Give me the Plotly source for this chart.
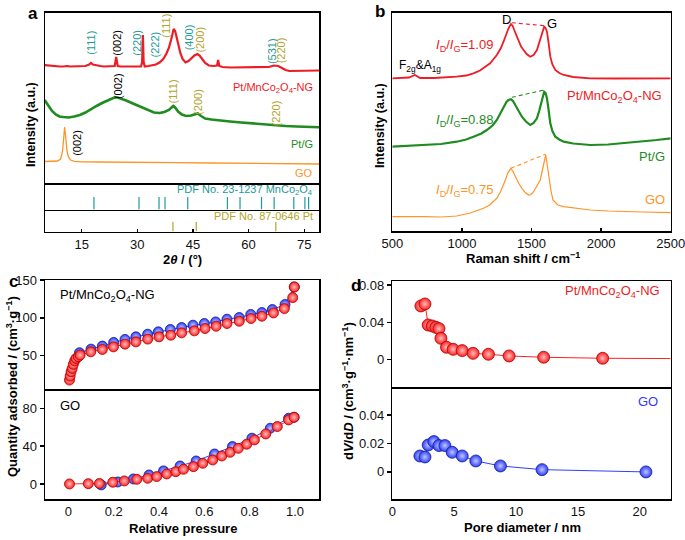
import plotly.graph_objects as go

# ---------------- DATA ----------------
# Panel a: XRD (2theta in degrees, intensity in a.u. with vertical offsets)
xrd_ng_2theta = [5, 6, 7, 8, 9, 10, 11, 12, 13, 14, 15, 16, 17, 17.5, 18, 19, 20, 21, 22, 23, 23.9, 24.3, 24.7,
                 25.5, 27, 28, 29, 30, 31, 31.3, 31.5, 31.7, 32, 33, 34, 35, 36, 37, 37.8, 38.5, 39.1, 39.5,
                 39.8, 40.2, 40.6, 41.1, 41.6, 42.2, 43, 43.8, 44.6, 45.4, 46.2, 46.8, 47.5, 48.3, 49.3, 50.5,
                 51.5, 51.8, 52.1, 53, 55, 58, 61, 64, 65.5, 66.8, 68, 69, 70, 71, 73, 75, 77, 79]
xrd_ng_px = [65, 65.5, 66, 66.5, 66.5, 66.5, 66, 66.5, 66.5, 66.5, 66, 66, 64.5, 63, 64.5, 65.5, 66, 66.5, 66.5,
             66.5, 66, 57, 66, 66.5, 66.5, 66.5, 66.5, 66.5, 66.5, 62, 35, 62, 66.5, 66, 65.5, 64.5, 62.5, 59,
             54, 48, 40, 33, 29, 31, 37, 46, 53, 59, 62.5, 61, 58, 55.5, 54, 55.5, 59, 63, 65.5, 66, 65.5, 60,
             66, 67, 67.5, 67.5, 67.5, 67.5, 67, 65.5, 66, 68, 70, 71, 71, 71, 70.5, 70.5]
xrd_ng = [183 - v for v in xrd_ng_px]

xrd_ptg_2theta = [5, 6, 7, 8, 9, 10, 11.5, 13, 14.5, 16, 17.5, 19, 20.5, 22, 23.5, 24.5, 25.5, 27, 28.5, 30,
                  31.5, 33, 34.5, 36, 37.3, 38.5, 39.3, 39.7, 40.2, 41, 42, 43.2, 44.5, 45.5, 46.3, 47.2,
                  48.3, 50, 52, 55, 58, 61, 64, 67, 70, 73, 76, 79]
xrd_ptg_px = [100, 106, 111, 114.5, 116.5, 117, 117.5, 116.5, 115, 112.5, 109, 106, 103, 100.5, 98, 97.3, 98.5,
              100.5, 103, 105.5, 108, 110.5, 112.5, 113, 112, 110, 107.5, 106, 107.5, 111.5, 114.5, 116,
              115.5, 114.5, 113.5, 116, 118.5, 119.5, 120.5, 121.5, 122.5, 123.5, 124.5, 125, 126, 126.5,
              127, 127.3]
xrd_ptg = [183 - v for v in xrd_ptg_px]

xrd_go_2theta = [5, 7, 8.5, 9.3, 9.8, 10.1, 10.4, 10.7, 11.0, 11.4, 12, 13, 15, 20, 25, 30, 40, 50, 60, 70, 79]
xrd_go_px = [161.5, 161.5, 161, 159, 152, 140, 127, 138, 150, 157, 160, 161.3, 161.8, 162, 162, 162.3, 162.7,
             163, 163.3, 163.6, 164]
xrd_go = [183 - v for v in xrd_go_px]

pdf_mnco2o4 = [18.3, 30.45, 35.85, 37.47, 43.6, 54.3, 57.7, 63.5, 66.9, 72.2, 75.2, 76.2]
pdf_pt = [39.6, 45.9, 67.35]

# Panel b: Raman (shift in cm-1, intensity a.u. with offsets)
raman_ng_shift = [500, 560, 620, 663, 700, 800, 900, 963, 1030, 1083, 1130, 1155, 1203, 1251, 1280, 1299, 1320,
                  1335, 1352, 1365, 1376, 1392, 1407, 1425, 1443, 1465, 1491, 1515, 1539, 1555, 1568, 1580,
                  1591, 1601, 1611, 1623, 1635, 1650, 1671, 1700, 1731, 1800, 1922, 2100, 2300, 2500]
raman_ng_px = [78.3, 78, 77.5, 75, 78, 78, 77.5, 76.7, 75.5, 73.3, 70.5, 68.3, 63.3, 55, 48, 41.7, 33, 28.3, 24,
               26, 30, 36, 41.7, 46.5, 50, 54, 56.7, 55, 50, 43, 36.7, 30, 26.7, 28, 31.7, 43, 56.7, 64.5, 70,
               73, 75, 77, 78.3, 78.5, 78.5, 78.3]
raman_ng = [231 - v for v in raman_ng_px]

raman_ptg_shift = [500, 600, 724, 850, 963, 1030, 1083, 1140, 1179, 1220, 1251, 1280, 1299, 1320, 1335, 1352,
                   1367, 1383, 1407, 1431, 1460, 1491, 1515, 1539, 1555, 1568, 1580, 1591, 1601, 1611, 1623,
                   1635, 1650, 1671, 1700, 1731, 1800, 1922, 2050, 2162, 2300, 2400, 2500]
raman_ptg_px = [146.7, 146, 145, 144, 141.7, 139.5, 136.7, 133.5, 130, 125.5, 120, 112, 106.7, 102, 100, 99.3,
                101, 105, 111, 116.7, 121.5, 125, 123, 118.3, 111, 103.3, 96, 91.7, 93, 98.3, 110, 123.3, 131,
                136.7, 139.5, 141.7, 143.5, 145, 144.5, 143.3, 141.5, 140, 138.3]
raman_ptg = [231 - v for v in raman_ptg_px]

raman_go_shift = [500, 600, 724, 850, 963, 1060, 1155, 1200, 1251, 1280, 1299, 1315, 1328, 1340, 1352, 1365,
                  1383, 1407, 1431, 1455, 1479, 1497, 1515, 1540, 1563, 1577, 1587, 1596, 1602, 1610, 1623,
                  1640, 1654, 1690, 1731, 1800, 1922, 2050, 2162, 2300, 2500]
raman_go_px = [216.7, 216.5, 216.7, 217, 216, 213, 208.3, 205, 198.3, 191, 185, 179, 173.3, 170, 168.3, 171,
               176.7, 183, 188.3, 192.5, 195, 194.5, 191.7, 186, 180, 171, 163.3, 157, 155, 162, 176.7, 191,
               200, 205, 206.7, 208, 210, 211, 211.7, 212, 212.7]
raman_go = [231 - v for v in raman_go_px]

# D/G peak tie lines: (shift_D, shift_G), (I_D, I_G)
dg_ng = ([1359, 1591], [231 - 22.7, 231 - 25.7])
dg_ptg = ([1359, 1591], [231 - 97.3, 231 - 90])
dg_go = ([1352, 1602], [231 - 168.3, 231 - 154])

# Panel c: N2 isotherms (relative pressure, quantity adsorbed)
ng_ads_p = [0.005, 0.008, 0.012, 0.017, 0.022, 0.028, 0.034, 0.044, 0.052, 0.099, 0.15, 0.199, 0.25, 0.298,
            0.35, 0.4, 0.452, 0.5, 0.556, 0.603, 0.652, 0.7, 0.754, 0.806, 0.854, 0.905, 0.953, 0.99, 0.997]
ng_ads_q = [18, 23.3, 29, 33.4, 38.7, 43.4, 46.6, 48.7, 51, 55.3, 58.4, 61.8, 65.4, 68.4, 72, 75, 77.2, 80.3,
            82.9, 86, 89, 92.6, 95.6, 99.2, 102.2, 106.6, 112.3, 126.8, 140.8]
ng_des_p = [0.997, 0.956, 0.9, 0.854, 0.805, 0.754, 0.7, 0.65, 0.6, 0.55, 0.5, 0.45, 0.397, 0.35, 0.298, 0.25,
            0.2, 0.15, 0.1, 0.049]
ng_des_q = [140.8, 117.6, 111, 107, 104.5, 100.5, 98.3, 94.7, 92.6, 90.4, 87.3, 84.7, 81.6, 78.5, 75, 71.6,
            67.6, 62.8, 58.8, 54]
go_ads_p = [0.005, 0.088, 0.137, 0.196, 0.247, 0.302, 0.35, 0.39, 0.434, 0.474, 0.508, 0.552, 0.593, 0.637,
            0.677, 0.714, 0.75, 0.787, 0.821, 0.871, 0.922, 0.972, 0.996]
go_ads_q = [0, 0.3, 0.5, 1.8, 3.2, 4.9, 6, 7.8, 10.6, 13, 15.5, 18.3, 21.9, 25.4, 29.6, 33.5, 37.7, 42, 46.6,
            52.9, 60.7, 67.7, 70.5]
go_des_p = [0.996, 0.972, 0.891, 0.81, 0.724, 0.645, 0.564, 0.493, 0.42, 0.356, 0.287, 0.218, 0.145]
go_des_q = [70.5, 69.5, 58.9, 48.4, 39.5, 31.7, 24.3, 19, 13.8, 9.5, 5.3, 2.1, -1]

# Panel d: pore size distributions (pore diameter nm, dV/dD)
psd_ng_d = [2.31, 2.64, 2.9, 3.23, 3.52, 3.77, 3.93, 4.38, 4.92, 5.65, 6.53, 7.77, 9.44, 12.23, 17.0]
psd_ng_v = [0.0576, 0.0597, 0.0372, 0.0361, 0.0347, 0.0333, 0.0229, 0.0133, 0.0111, 0.0097, 0.0068, 0.0058,
            0.004, 0.0026, 0.0015]
psd_ng_tail_d = [17.0, 22.5]
psd_ng_tail_v = [0.0015, 0.0012]
psd_go_d = [2.23, 2.64, 2.9, 3.36, 3.77, 4.25, 4.84, 5.65, 6.75, 8.74, 12.1, 20.5]
psd_go_v = [0.0112, 0.0105, 0.0189, 0.0213, 0.0185, 0.0185, 0.0138, 0.0112, 0.0077, 0.0042, 0.0016, 0.0]

# ---------------- STYLE ----------------
W, H = 685, 540
FONT = "Liberation Sans, Arial, sans-serif"
RED = "#ee1c25"
GREEN = "#1e8c1e"
ORANGE = "#ff9426"
BLUE = "#3535ff"
TEAL = "#1d9a9a"
OLIVE = "#b3a42c"


def X(px):
    return px / W


def Y(py):
    return 1 - py / H


fig = go.Figure()

# Panel a traces
fig.add_trace(go.Scatter(x=xrd_ng_2theta, y=xrd_ng, mode="lines", line=dict(color=RED, width=2.2),
                         xaxis="x", yaxis="y", hoverinfo="skip"))
fig.add_trace(go.Scatter(x=xrd_ptg_2theta, y=xrd_ptg, mode="lines", line=dict(color=GREEN, width=2.6),
                         xaxis="x", yaxis="y", hoverinfo="skip"))
fig.add_trace(go.Scatter(x=xrd_go_2theta, y=xrd_go, mode="lines", line=dict(color=ORANGE, width=1.3),
                         xaxis="x", yaxis="y", hoverinfo="skip"))


def sticks(pos, h):
    xs, ys = [], []
    for p in pos:
        xs += [p, p, None]
        ys += [0, h, None]
    return xs, ys


sx, sy = sticks(pdf_mnco2o4, 0.47)
fig.add_trace(go.Scatter(x=sx, y=sy, mode="lines", line=dict(color=TEAL, width=1.2), xaxis="x2", yaxis="y2"))
sx, sy = sticks(pdf_pt, 0.43)
fig.add_trace(go.Scatter(x=sx, y=sy, mode="lines", line=dict(color=OLIVE, width=1.2), xaxis="x3", yaxis="y3"))

# Panel b traces
fig.add_trace(go.Scatter(x=raman_ng_shift, y=raman_ng, mode="lines", line=dict(color=RED, width=1.8),
                         xaxis="x4", yaxis="y4"))
fig.add_trace(go.Scatter(x=raman_ptg_shift, y=raman_ptg, mode="lines", line=dict(color=GREEN, width=2.2),
                         xaxis="x4", yaxis="y4"))
fig.add_trace(go.Scatter(x=raman_go_shift, y=raman_go, mode="lines", line=dict(color=ORANGE, width=1.2),
                         xaxis="x4", yaxis="y4"))
for (dx, dy), c in [(dg_ng, RED), (dg_ptg, GREEN), (dg_go, ORANGE)]:
    fig.add_trace(go.Scatter(x=dx, y=dy, mode="lines", line=dict(color=c, width=1.1, dash="4px,3px"),
                             xaxis="x4", yaxis="y4"))


def sphere(color, edge, hl, size):
    return dict(color=color, size=size, line=dict(color=edge, width=0.8),
                gradient=dict(type="radial", color=hl))


RED_M = sphere("#ff1f1f", "#b00000", "#ffc0c0", 10)
BLUE_M = sphere("#2f3dff", "#10208f", "#c0c8ff", 10)

# Panel c traces
fig.add_trace(go.Scatter(x=ng_des_p, y=ng_des_q, mode="lines+markers", line=dict(color="#3040ff", width=1),
                         marker=BLUE_M, xaxis="x5", yaxis="y5"))
fig.add_trace(go.Scatter(x=ng_ads_p, y=ng_ads_q, mode="lines+markers", line=dict(color="#ff2020", width=1),
                         marker=RED_M, xaxis="x5", yaxis="y5"))
fig.add_trace(go.Scatter(x=go_des_p, y=go_des_q, mode="lines+markers", line=dict(color="#3040ff", width=1),
                         marker=BLUE_M, xaxis="x6", yaxis="y6"))
fig.add_trace(go.Scatter(x=go_ads_p, y=go_ads_q, mode="lines+markers", line=dict(color="#ff2020", width=1),
                         marker=RED_M, xaxis="x6", yaxis="y6"))

# Panel d traces
fig.add_trace(go.Scatter(x=psd_ng_tail_d, y=psd_ng_tail_v, mode="lines", line=dict(color="#ff2020", width=1),
                         xaxis="x7", yaxis="y7"))
fig.add_trace(go.Scatter(x=psd_ng_d, y=psd_ng_v, mode="lines+markers", line=dict(color="#ff2020", width=1),
                         marker=sphere("#ff1f1f", "#b00000", "#ffc0c0", 12), xaxis="x7", yaxis="y7"))
fig.add_trace(go.Scatter(x=psd_go_d, y=psd_go_v, mode="lines+markers", line=dict(color="#3040ff", width=1),
                         marker=sphere("#2f3dff", "#10208f", "#c0c8ff", 12), xaxis="x8", yaxis="y8"))

# ---------------- AXES ----------------
base = dict(showline=True, linecolor="black", linewidth=1.5, showgrid=False, zeroline=False, automargin=False,
            tickfont=dict(family=FONT, size=13, color="#111"), tickcolor="black", tickwidth=1.3,
            ticklabeloverflow="allow")
box = dict(base, mirror=True)
bottom_only = dict(base, mirror=False)
noticks = dict(ticks="", showticklabels=False)

a_dom = [X(45), X(319)]
b_dom = [X(392.3), X(670.7)]
a_rng = [5.1, 79]

layout_axes = dict(
    xaxis=dict(domain=a_dom, range=a_rng, anchor="y", **box, **noticks),
    yaxis=dict(domain=[Y(183), Y(12.5)], range=[0, 170.5], anchor="x", **box, **noticks),
    xaxis2=dict(domain=a_dom, range=a_rng, anchor="y2", **bottom_only, **noticks),
    yaxis2=dict(domain=[Y(209.5), Y(183)], range=[0, 1], anchor="x2", **box, **noticks),
    xaxis3=dict(domain=a_dom, range=a_rng, anchor="y3", ticks="inside", ticklen=3,
                tickvals=[15, 30, 45, 60, 75], **bottom_only),
    yaxis3=dict(domain=[Y(231.5), Y(209.5)], range=[0, 1], anchor="x3", **box, **noticks),
    xaxis4=dict(domain=b_dom, range=[500, 2500], anchor="y4", ticks="inside", ticklen=3,
                tickvals=[500, 1000, 1500, 2000, 2500], **box),
    yaxis4=dict(domain=[Y(231), Y(12.7)], range=[0, 218.3], anchor="x4", **box, **noticks),
    xaxis5=dict(domain=a_dom, range=[-0.103, 1.106], anchor="y5", **box, **noticks),
    yaxis5=dict(domain=[Y(389), Y(280)], range=[6.2, 150], anchor="x5", ticks="outside", ticklen=4,
                tickvals=[50, 100, 150], **box),
    xaxis6=dict(domain=a_dom, range=[-0.103, 1.106], anchor="y6", ticks="",
                tickvals=[0, 0.2, 0.4, 0.6, 0.8, 1.0], ticktext=["0", "0.2", "0.4", "0.6", "0.8", "1.0"],
                **bottom_only),
    yaxis6=dict(domain=[Y(499), Y(389)], range=[-15.9, 100.4], anchor="x6", ticks="outside", ticklen=4,
                tickvals=[0, 40, 80], **box),
    xaxis7=dict(domain=b_dom, range=[0, 22.5], anchor="y7", **box, **noticks),
    yaxis7=dict(domain=[Y(387.3), Y(281)], range=[-0.0296, 0.0843], anchor="x7", ticks="outside", ticklen=4,
                tickvals=[0, 0.04, 0.08], ticktext=["0", "0.04", "0.08"], **box),
    xaxis8=dict(domain=b_dom, range=[0, 22.5], anchor="y8", ticks="", tickvals=[0, 5, 10, 15, 20],
                **bottom_only),
    yaxis8=dict(domain=[Y(499), Y(387.3)], range=[-0.019, 0.0594], anchor="x8", ticks="outside", ticklen=4,
                tickvals=[0, 0.02, 0.04], ticktext=["0", "0.02", "0.04"], **box),
)

ann = []


def paper_text(px, py, text, size=13, color="black", xanchor="center", angle=0, bold=False):
    t = f"<b>{text}</b>" if bold else text
    ann.append(dict(x=X(px), y=Y(py), xref="paper", yref="paper", text=t, showarrow=False,
                    xanchor=xanchor, yanchor="middle", textangle=angle,
                    font=dict(family=FONT, size=size, color=color)))


def a_label(theta, py, text, color):
    ann.append(dict(x=theta, y=183 - py, xref="x", yref="y", text=text, showarrow=False, textangle=-90,
                    xanchor="center", yanchor="middle", font=dict(family=FONT, size=11, color=color)))


# Panel a peak labels
for theta, py, text, color in [
    (17.3, 42.5, "(111)", TEAL), (24.3, 42.5, "(002)", "black"), (29.7, 42.5, "(220)", TEAL),
    (34.9, 44, "(222)", TEAL), (37.8, 25.5, "(111)", OLIVE), (43.9, 37.5, "(400)", TEAL),
    (46.8, 40, "(200)", OLIVE), (66.2, 51.5, "(531)", TEAL), (68.7, 50.5, "(220)", OLIVE),
    (24.8, 86, "(002)", "black"), (39.6, 91.5, "(111)", OLIVE), (46.2, 101.5, "(200)", OLIVE),
    (67.5, 113, "(220)", OLIVE), (13.55, 142.5, "(002)", "black")]:
    a_label(theta, py, text, color)

paper_text(315, 88.5, "Pt/MnCo<sub>2</sub>O<sub>4</sub>-NG", 11, RED, "right")
paper_text(315, 144, "Pt/G", 11, GREEN, "right")
paper_text(315, 173, "GO", 11, ORANGE, "right")
paper_text(315, 190, "PDF No. 23-1237 MnCo<sub>2</sub>O<sub>4</sub>", 11, TEAL, "right")
paper_text(315, 215.5, "PDF No. 87-0646 Pt", 11, OLIVE, "right")

# Panel b labels
paper_text(506, 20, "D", 13)
paper_text(551.7, 23.3, "G", 13)
paper_text(396.7, 66, "F<sub>2g</sub>&amp;A<sub>1g</sub>", 12, "black", "left")
paper_text(495, 45, "<i>I</i><sub>D</sub>/<i>I</i><sub>G</sub>=1.09", 13, RED, "right")
paper_text(495, 120, "<i>I</i><sub>D</sub>/<i>I</i><sub>G</sub>=0.88", 13, GREEN, "right")
paper_text(495, 190, "<i>I</i><sub>D</sub>/<i>I</i><sub>G</sub>=0.75", 13, ORANGE, "right")
paper_text(663.5, 96, "Pt/MnCo<sub>2</sub>O<sub>4</sub>-NG", 13, RED, "right")
paper_text(666.7, 156.7, "Pt/G", 13, GREEN, "right")
paper_text(666.7, 199.3, "GO", 13, ORANGE, "right")

# Panel c / d labels
paper_text(58.3, 295, "Pt/MnCo<sub>2</sub>O<sub>4</sub>-NG", 13, "black", "left")
paper_text(58.3, 405, "GO", 13, "black", "left")
paper_text(662, 291.7, "Pt/MnCo<sub>2</sub>O<sub>4</sub>-NG", 13, RED, "right")
paper_text(660, 401.7, "GO", 13, BLUE, "right")

# Axis titles
paper_text(183, 260, "2<i>θ</i> / (°)", 13, bold=True)
paper_text(31, 125, "Intensity (a.u.)", 12.5, angle=-90, bold=True)
paper_text(523, 258.3, "Raman shift / cm<sup>−1</sup>", 13, bold=True)
paper_text(380, 126, "Intensity (a.u.)", 12.5, angle=-90, bold=True)
paper_text(183, 528.3, "Relative pressure", 13, bold=True)
paper_text(12, 387, "Quantity adsorbed / (cm<sup>3</sup>·g<sup>−1</sup>)", 13, angle=-90, bold=True)
paper_text(522, 527.7, "Pore diameter / nm", 13, bold=True)
paper_text(348, 391, "d<i>V</i>/d<i>D</i> / (cm<sup>3</sup>·g<sup>−1</sup>·nm<sup>−1</sup>)", 13, angle=-90,
           bold=True)

# Panel letters
paper_text(32.5, 14, "a", 17, bold=True)
paper_text(380, 11.5, "b", 17, bold=True)
paper_text(13, 281, "c", 17, bold=True)
paper_text(356, 285, "d", 17, bold=True)

fig.update_layout(template="none", width=W, height=H, margin=dict(l=0, r=0, t=0, b=0, pad=0),
                  showlegend=False, plot_bgcolor="white", paper_bgcolor="white", annotations=ann,
                  hovermode=False, font=dict(family=FONT, size=13, color="black"), **layout_axes)

fig.write_html("out.html", config={"displayModeBar": False, "staticPlot": True},
               post_script="document.body.style.margin='0px';document.body.style.overflow='hidden';")
